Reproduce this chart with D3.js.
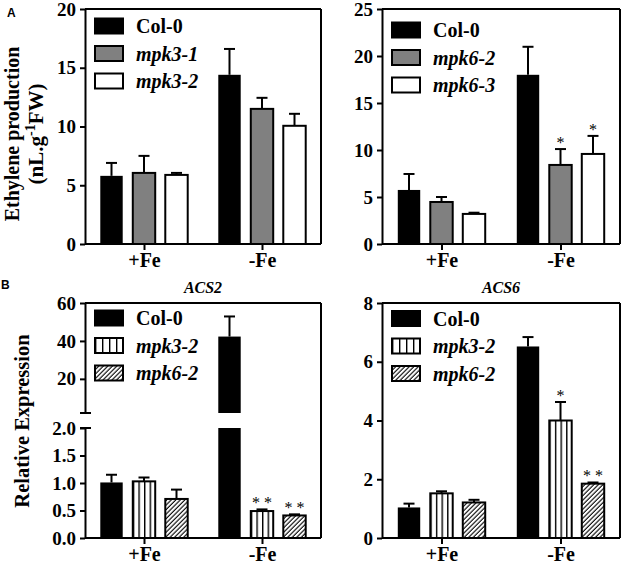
<!DOCTYPE html>
<html>
<head>
<meta charset="utf-8">
<script src="https://cdnjs.cloudflare.com/ajax/libs/d3/7.8.5/d3.min.js"></script>
<style>
body { margin: 0; background: #fff; }
svg text { font-family: 'Liberation Serif', 'Times New Roman', serif; font-weight: bold; }
</style>
</head>
<body>
<script>
var conditions = ['+Fe', '-Fe'];

// A, left: ethylene, mpk3 lines
var ethMpk3Lines = ['Col-0', 'mpk3-1', 'mpk3-2'];
var ethMpk3Mean = [[5.8, 14.4], [6.05, 11.5], [5.88, 10.06]];
var ethMpk3Err = [[1.1, 2.2], [1.45, 0.94], [0.17, 1.02]];
var ethMpk3Stars = [['', ''], ['', ''], ['', '']];
var ethMpk3Ticks = [0, 5, 10, 15, 20];

// A, right: ethylene, mpk6 lines
var ethMpk6Lines = ['Col-0', 'mpk6-2', 'mpk6-3'];
var ethMpk6Mean = [[5.75, 18.0], [4.47, 8.41], [3.2, 9.58]];
var ethMpk6Err = [[1.7, 2.98], [0.53, 1.69], [0.13, 1.92]];
var ethMpk6Stars = [['', ''], ['', '*'], ['', '*']];
var ethMpk6Ticks = [0, 5, 10, 15, 20, 25];

// B, left: ACS2 expression (broken axis)
var acs2Lines = ['Col-0', 'mpk3-2', 'mpk6-2'];
var acs2Mean = [[1.01, 42.3], [1.03, 0.49], [0.71, 0.41]];
var acs2Err = [[0.14, 10.6], [0.07, 0.03], [0.17, 0.02]];
var acs2Stars = [['', ''], ['', '* *'], ['', '* *']];
var acs2LowTicks = [0, 0.5, 1.0, 1.5, 2.0];
var acs2HighTicks = [20, 40, 60];

// B, right: ACS6 expression
var acs6Lines = ['Col-0', 'mpk3-2', 'mpk6-2'];
var acs6Mean = [[1.04, 6.52], [1.52, 4.0], [1.21, 1.85]];
var acs6Err = [[0.13, 0.32], [0.07, 0.63], [0.09, 0.04]];
var acs6Stars = [['', ''], ['', '*'], ['', '* *']];
var acs6Ticks = [0, 2, 4, 6, 8];

var svg = d3.select('body').append('svg')
    .attr('width', 624)
    .attr('height', 567);

var defs = svg.append('defs');
var stripes = defs.append('pattern')
    .attr('id', 'stripes')
    .attr('patternUnits', 'objectBoundingBox')
    .attr('width', 0.25)
    .attr('height', 1);
stripes.append('rect').attr('width', 100).attr('height', 1000).attr('fill', '#fff');
stripes.append('line')
    .attr('x1', 0.7).attr('x2', 0.7).attr('y1', 0).attr('y2', 1000)
    .attr('stroke', '#000').attr('stroke-width', 1.4);
var hatch = defs.append('pattern')
    .attr('id', 'hatch')
    .attr('patternUnits', 'userSpaceOnUse')
    .attr('width', 3.2)
    .attr('height', 3.2)
    .attr('patternTransform', 'rotate(45)');
hatch.append('rect').attr('width', 3.2).attr('height', 3.2).attr('fill', '#fff');
hatch.append('line')
    .attr('x1', 1).attr('x2', 1).attr('y1', 0).attr('y2', 3.2)
    .attr('stroke', '#000').attr('stroke-width', 1.1);

var panels = [
    {left: 85, right: 321, top: 9, bottom: 244, max: 20, ticks: ethMpk3Ticks,
     lines: ethMpk3Lines, mean: ethMpk3Mean, err: ethMpk3Err, stars: ethMpk3Stars,
     fills: ['#000', '#808080', '#fff'], legendY: 26},
    {left: 382, right: 620, top: 9, bottom: 244, max: 25, ticks: ethMpk6Ticks,
     lines: ethMpk6Lines, mean: ethMpk6Mean, err: ethMpk6Err, stars: ethMpk6Stars,
     fills: ['#000', '#808080', '#fff'], legendY: 30},
    {left: 85, right: 321, top: 303, bottom: 538, broken: true,
     lowTop: 428, highBottom: 413, lowMax: 2, highMax: 60,
     lines: acs2Lines, mean: acs2Mean, err: acs2Err, stars: acs2Stars,
     fills: ['#000', 'url(#stripes)', 'url(#hatch)'], legendY: 318, title: 'ACS2'},
    {left: 382, right: 620, top: 303, bottom: 538, max: 8, ticks: acs6Ticks,
     lines: acs6Lines, mean: acs6Mean, err: acs6Err, stars: acs6Stars,
     fills: ['#000', 'url(#stripes)', 'url(#hatch)'], legendY: 318.5, title: 'ACS6'}
];

function styleAxis(g, size) {
    g.attr('font-family', null).attr('font-size', size);
    g.selectAll('path.domain').attr('stroke-width', 2);
    g.selectAll('.tick line').attr('stroke-width', 2);
    g.selectAll('.tick text').attr('fill', '#000');
}

panels.forEach(function(p) {
    var g = svg.append('g');
    var x = d3.scalePoint().domain(conditions).range([p.left, p.right]).padding(0.5);
    var xi = d3.scaleBand().domain(p.lines)
        .range([-48.75, 48.75]).paddingInner(0.31).paddingOuter(0.155);

    var y, yLow, yHigh;
    if (p.broken) {
        yLow = d3.scaleLinear().domain([0, p.lowMax]).range([p.bottom, p.lowTop]);
        yHigh = d3.scaleLinear().domain([p.lowMax, p.highMax]).range([p.highBottom, p.top]);
        y = function(v) { return v <= p.lowMax ? yLow(v) : yHigh(v); };
    } else {
        y = d3.scaleLinear().domain([0, p.max]).range([p.bottom, p.top]);
    }

    var bars = [];
    p.lines.forEach(function(s, si) {
        conditions.forEach(function(c, ci) {
            bars.push({s: s, si: si, c: c, v: p.mean[si][ci], e: p.err[si][ci], star: p.stars[si][ci]});
        });
    });

    // frame: top and right
    g.append('line')
        .attr('x1', p.left).attr('x2', p.right).attr('y1', p.top).attr('y2', p.top)
        .attr('stroke', '#000').attr('stroke-width', 2);
    g.append('line')
        .attr('x1', p.right).attr('x2', p.right).attr('y1', p.top).attr('y2', p.bottom)
        .attr('stroke', '#000').attr('stroke-width', 2);

    // bars (lower / only part)
    g.selectAll('rect.bar')
        .data(bars)
        .enter().append('rect')
        .attr('class', 'bar')
        .attr('x', function(d) { return x(d.c) + xi(d.s); })
        .attr('width', xi.bandwidth())
        .attr('y', function(d) { return p.broken ? yLow(Math.min(d.v, p.lowMax)) : y(d.v); })
        .attr('height', function(d) {
            return p.bottom - (p.broken ? yLow(Math.min(d.v, p.lowMax)) : y(d.v));
        })
        .attr('fill', function(d) { return p.fills[d.si]; })
        .attr('stroke', '#000')
        .attr('stroke-width', function(d) { return d.si === 0 ? 0 : 2; });

    // upper part of bars above the break
    if (p.broken) {
        g.selectAll('rect.barHigh')
            .data(bars.filter(function(d) { return d.v > p.lowMax; }))
            .enter().append('rect')
            .attr('class', 'barHigh')
            .attr('x', function(d) { return x(d.c) + xi(d.s); })
            .attr('width', xi.bandwidth())
            .attr('y', function(d) { return yHigh(d.v); })
            .attr('height', function(d) { return yHigh(p.lowMax) - yHigh(d.v); })
            .attr('fill', function(d) { return p.fills[d.si]; })
            .attr('stroke', '#000')
            .attr('stroke-width', function(d) { return d.si === 0 ? 0 : 2; });
    }

    // error bars (upper half only)
    var eb = g.selectAll('g.err')
        .data(bars)
        .enter().append('g')
        .attr('class', 'err')
        .attr('transform', function(d) { return 'translate(' + (x(d.c) + xi(d.s) + xi.bandwidth() / 2) + ',0)'; });
    eb.append('line')
        .attr('x1', 0).attr('x2', 0)
        .attr('y1', function(d) { return y(d.v); })
        .attr('y2', function(d) { return y(d.v + d.e); })
        .attr('stroke', '#000').attr('stroke-width', 2);
    eb.append('line')
        .attr('x1', -5.5).attr('x2', 5.5)
        .attr('y1', function(d) { return y(d.v + d.e); })
        .attr('y2', function(d) { return y(d.v + d.e); })
        .attr('stroke', '#000').attr('stroke-width', 2);
    eb.append('text')
        .attr('text-anchor', 'middle')
        .attr('y', function(d) { return y(d.v + d.e) - 1; })
        .attr('font-size', 16)
        .attr('fill', '#000')
        .style('font-weight', 'normal')
        .text(function(d) { return d.star; });

    // x axis
    var xa = g.append('g')
        .attr('transform', 'translate(0,' + p.bottom + ')')
        .call(d3.axisBottom(x).tickSize(6).tickSizeOuter(0).tickPadding(3));
    styleAxis(xa, 20);
    xa.select('path.domain').attr('d', 'M' + p.left + ',0H' + p.right);

    // y axis
    if (p.broken) {
        var ya1 = g.append('g')
            .attr('transform', 'translate(' + p.left + ',0)')
            .call(d3.axisLeft(yLow).tickValues(acs2LowTicks).tickFormat(d3.format('.1f'))
                .tickSize(5).tickSizeOuter(0).tickPadding(4));
        styleAxis(ya1, 19);
        var ya2 = g.append('g')
            .attr('transform', 'translate(' + p.left + ',0)')
            .call(d3.axisLeft(yHigh).tickValues(acs2HighTicks).tickFormat(d3.format('d'))
                .tickSize(5).tickSizeOuter(0).tickPadding(4));
        styleAxis(ya2, 19);
        // break caps
        [yHigh(p.lowMax), yLow(p.lowMax)].forEach(function(yy) {
            g.append('line')
                .attr('x1', p.left - 5).attr('x2', p.left + 6)
                .attr('y1', yy).attr('y2', yy)
                .attr('stroke', '#000').attr('stroke-width', 2);
        });
    } else {
        var ya = g.append('g')
            .attr('transform', 'translate(' + p.left + ',0)')
            .call(d3.axisLeft(y).tickValues(p.ticks).tickFormat(d3.format('d'))
                .tickSize(5).tickSizeOuter(0).tickPadding(4));
        styleAxis(ya, 19);
    }

    // legend
    var lg = g.selectAll('g.legend')
        .data(p.lines)
        .enter().append('g')
        .attr('class', 'legend')
        .attr('transform', function(d, i) { return 'translate(' + (p.left + 10) + ',' + (p.legendY + i * 27.5) + ')'; });
    lg.append('rect')
        .attr('x', 0).attr('y', -7.5)
        .attr('width', 28).attr('height', 15)
        .attr('fill', function(d, i) { return p.fills[i]; })
        .attr('stroke', '#000').attr('stroke-width', 2);
    lg.append('text')
        .attr('x', 41).attr('y', 7)
        .attr('font-size', 20)
        .style('font-style', function(d, i) { return i === 0 ? 'normal' : 'italic'; })
        .text(function(d) { return d; });

    if (p.title) {
        g.append('text')
            .attr('x', (p.left + p.right) / 2)
            .attr('y', p.top - 10)
            .attr('text-anchor', 'middle')
            .attr('font-size', 16)
            .style('font-style', 'italic')
            .text(p.title);
    }
});

// y axis titles
svg.append('text')
    .attr('transform', 'translate(19,134) rotate(-90)')
    .attr('text-anchor', 'middle')
    .attr('font-size', 20)
    .text('Ethylene production');
var t2 = svg.append('text')
    .attr('transform', 'translate(43,134) rotate(-90)')
    .attr('text-anchor', 'middle')
    .attr('font-size', 21);
t2.append('tspan').text('(nL.g');
t2.append('tspan').attr('font-size', 14).attr('dy', -8).text('-1');
t2.append('tspan').attr('dy', 8).text('FW)');
svg.append('text')
    .attr('transform', 'translate(29,421) rotate(-90)')
    .attr('text-anchor', 'middle')
    .attr('font-size', 20.5)
    .text('Relative Expression');

// panel letters
svg.append('text')
    .attr('x', 7).attr('y', 17)
    .attr('font-size', 12)
    .style('font-family', "'Liberation Sans', Arial, sans-serif")
    .text('A');
svg.append('text')
    .attr('x', 1).attr('y', 289)
    .attr('font-size', 12)
    .style('font-family', "'Liberation Sans', Arial, sans-serif")
    .text('B');
</script>
</body>
</html>
